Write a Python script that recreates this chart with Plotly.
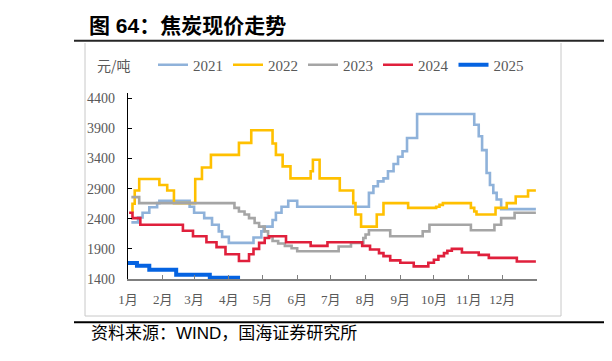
import plotly.graph_objects as go

# ---------------- data ----------------
BASE_YEAR = "2023"  # common axis year for the seasonal overlay

DATES_2021 = ["01-04", "01-10", "01-14", "01-20", "01-27", "01-29", "02-25", "03-01", "03-10", "03-17",
              "03-23", "03-26", "04-01", "04-23", "04-30", "05-02", "05-10", "05-13", "05-18", "05-24",
              "06-01", "08-04", "08-08", "08-12", "08-17", "08-21", "08-26", "08-30", "09-03", "09-07",
              "09-16", "11-06", "11-10", "11-13", "11-17", "11-20", "11-23", "11-26", "11-30", "12-31"]
PRICE_2021 = [2340, 2420, 2500, 2590, 2660, 2700, 2600, 2500, 2410, 2300,
              2190, 2100, 2000, 2090, 2190, 2270, 2380, 2500, 2600, 2700,
              2600, 2830, 2940, 3020, 3070, 3190, 3310, 3430, 3520, 3740,
              4140, 3960, 3770, 3540, 3160, 2960, 2830, 2720, 2560, 2560]

DATES_2022 = ["01-04", "01-05", "01-07", "01-11", "01-29", "02-05", "02-11", "03-02", "03-08", "03-16",
              "04-10", "04-21", "05-10", "05-13", "05-19", "05-26", "06-13", "06-15", "06-21", "07-09",
              "07-21", "07-23", "07-28", "08-11", "08-17", "09-08", "10-03", "10-06", "10-09", "11-03",
              "11-06", "11-08", "11-25", "12-05", "12-13", "12-24", "12-31"]
PRICE_2022 = [2520, 2650, 2870, 3060, 2960, 2870, 2660, 3060, 3250, 3460,
              3660, 3870, 3650, 3460, 3270, 3070, 3190, 3380, 3070, 2870,
              2660, 2470, 2270, 2470, 2660, 2580, 2600, 2630, 2660, 2580,
              2520, 2470, 2580, 2660, 2770, 2870, 2870]

DATES_2023 = ["01-04", "01-11", "04-06", "04-10", "04-15", "04-19", "04-24", "04-28", "05-03", "05-06",
              "05-10", "05-15", "05-21", "05-27", "06-01", "07-08", "07-19", "07-30", "08-01", "08-04",
              "08-23", "09-21", "09-27", "11-03", "11-24", "11-30", "12-12", "12-31"]
PRICE_2023 = [2760, 2660, 2580, 2520, 2470, 2410, 2330, 2270, 2190, 2110,
              2030, 1990, 1950, 1910, 1860, 1940, 2000, 2080, 2140, 2210,
              2110, 2190, 2300, 2210, 2300, 2410, 2500, 2500]

DATES_2024 = ["01-02", "01-05", "01-12", "02-19", "02-28", "03-12", "03-21", "03-29", "04-10", "04-19",
              "04-23", "04-28", "05-03", "05-07", "05-22", "06-13", "06-28", "07-29", "08-05", "08-13",
              "08-17", "08-23", "09-01", "09-13", "09-26", "10-01", "10-05", "10-10", "10-13", "10-17",
              "10-26", "11-10", "11-19", "12-14", "12-31"]
PRICE_2024 = [2500, 2410, 2300, 2200, 2110, 2010, 1930, 1810, 1700, 1810,
              1900, 2000, 2080, 2110, 2010, 1950, 2010, 1950, 1890, 1830,
              1780, 1710, 1670, 1610, 1670, 1720, 1780, 1830, 1870, 1900,
              1840, 1800, 1750, 1690, 1690]

DATES_2025 = ["01-01", "01-09", "01-20", "02-13", "03-15", "04-11"]
PRICE_2025 = [1665, 1620, 1555, 1470, 1420, 1420]

SERIES_NAMES = ["2021", "2022", "2023", "2024", "2025"]
SERIES_DATES = [DATES_2021, DATES_2022, DATES_2023, DATES_2024, DATES_2025]
SERIES_PRICES = [PRICE_2021, PRICE_2022, PRICE_2023, PRICE_2024, PRICE_2025]

MONTH_LABELS = ["1月", "2月", "3月", "4月", "5月", "6月", "7月", "8月", "9月", "10月", "11月", "12月"]
Y_TICKS = [1400, 1900, 2400, 2900, 3400, 3900, 4400]

TITLE = "图 64：焦炭现价走势"
UNIT = "元/吨"
SOURCE = "资料来源：WIND，国海证券研究所"

# ---------------- styles ----------------
COLORS = ["#8FB2DA", "#FFC000", "#A5A5A5", "#E0203C", "#0563E1"]
WIDTHS = [2.6, 2.6, 2.6, 2.6, 4]

# the page body has an 8px margin, so the figure is placed at (8, 8) in the window
OFF = 8
WIN_W, WIN_H = 612, 361
FIG_W, FIG_H = WIN_W - OFF, WIN_H - OFF
L, R, T, B = 128 - OFF, 75, 93 - OFF, 82
PW, PH = FIG_W - L - R, FIG_H - T - B


def px_x(x):
    """window pixel x -> paper fraction"""
    return (x - OFF - L) / PW


def px_y(y):
    """window pixel y -> paper fraction"""
    return (FIG_H - B - (y - OFF)) / PH


SERIF = "Liberation Serif, Noto Sans CJK SC, serif"
CJK = "Noto Sans CJK SC, sans-serif"
GRAY_TXT = "#595959"

fig = go.Figure()
for name, dates, prices, color, width in zip(SERIES_NAMES, SERIES_DATES, SERIES_PRICES, COLORS, WIDTHS):
    fig.add_trace(go.Scatter(
        x=[f"{BASE_YEAR}-{d}" for d in dates],
        y=prices,
        name=name,
        mode="lines",
        line=dict(color=color, width=width, shape="hv"),
    ))

month_vals = [f"{BASE_YEAR}-{m:02d}-01" for m in range(1, 13)]

fig.update_layout(
    width=FIG_W, height=FIG_H,
    margin=dict(l=L, r=R, t=T, b=B, pad=0),
    paper_bgcolor="white", plot_bgcolor="white",
    showlegend=True,
    legend=dict(
        orientation="h",
        x=px_x(153), xanchor="left",
        y=px_y(65), yanchor="middle",
        font=dict(family=SERIF, size=15, color=GRAY_TXT),
        bgcolor="rgba(0,0,0,0)",
        itemwidth=30,
        tracegroupgap=0,
    ),
    xaxis=dict(
        type="date",
        range=[f"{BASE_YEAR}-01-01", "2024-01-01"],
        tickvals=month_vals, ticktext=MONTH_LABELS,
        showline=True, linecolor="#7F7F7F", linewidth=1.5,
        ticks="inside", ticklen=4, tickcolor="#7F7F7F", tickwidth=1,
        showgrid=False, zeroline=False,
        tickfont=dict(family=SERIF, size=13, color=GRAY_TXT),
        ticklabelstandoff=8,
    ),
    yaxis=dict(
        range=[1400, 4488],
        tickvals=Y_TICKS,
        showline=True, linecolor="#000000", linewidth=1.3,
        ticks="inside", ticklen=4, tickcolor="#000000", tickwidth=1,
        showgrid=False, zeroline=False,
        tickfont=dict(family=SERIF, size=14, color=GRAY_TXT),
        ticklabelstandoff=9,
    ),
)

# title, unit and source texts
fig.add_annotation(text="<b>" + TITLE + "</b>", xref="paper", yref="paper",
                   x=px_x(87), y=px_y(25), xanchor="left", yanchor="middle",
                   showarrow=False, font=dict(family="Liberation Sans, Noto Sans CJK SC", size=21, color="#000000"))
fig.add_annotation(text=UNIT, xref="paper", yref="paper",
                   x=px_x(95), y=px_y(65), xanchor="left", yanchor="middle",
                   showarrow=False, font=dict(family=CJK, size=14, color=GRAY_TXT))
fig.add_annotation(text=SOURCE, xref="paper", yref="paper",
                   x=px_x(89), y=px_y(333), xanchor="left", yanchor="middle",
                   showarrow=False, font=dict(family="Liberation Sans, Noto Sans CJK SC", size=17, color="#000000"))

# frame lines (window pixel coordinates)
line_shapes = [
    # title rule and bottom rule
    dict(x0=74, x1=WIN_W, y0=40.7, y1=40.7, color="#262626", width=2),
    dict(x0=74, x1=WIN_W, y0=322.3, y1=322.3, color="#000000", width=2),
    # chart box (light gray)
    dict(x0=85, x1=85, y0=43, y1=316, color="#C8C8C8", width=1),
    dict(x0=561, x1=561, y0=43, y1=316, color="#C8C8C8", width=1),
    dict(x0=85, x1=561, y0=316, y1=316, color="#C8C8C8", width=1),
    # edge of the neighbouring figure
    dict(x0=607, x1=607, y0=43, y1=313, color="#C8C8C8", width=1),
    dict(x0=607, x1=WIN_W, y0=313, y1=313, color="#C8C8C8", width=1),
    dict(x0=610, x1=610, y0=18, y1=33, color="#000000", width=2),
]
for s in line_shapes:
    fig.add_shape(type="line", xref="paper", yref="paper",
                  x0=px_x(s["x0"]), x1=px_x(s["x1"]), y0=px_y(s["y0"]), y1=px_y(s["y1"]),
                  line=dict(color=s["color"], width=s["width"]), layer="above")

fig.write_html("out.html")
